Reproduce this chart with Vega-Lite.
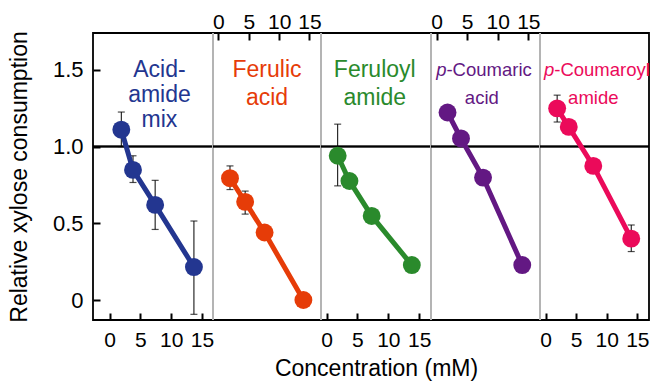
{
  "$schema": "https://vega.github.io/schema/vega-lite/v6.json",
  "background": "white",
  "padding": {"left": 7, "top": 10, "right": 0, "bottom": 0},
  "spacing": 0,
  "bounds": "flush",
  "config": {"view": {"stroke": "black", "strokeWidth": 1.8}, "font": "Liberation Sans", "axis": {"grid": false}},
  "datasets": {
    "points": [
      {"compound": "mix", "conc": 1.9, "rel": 1.11, "lo": 1.0, "hi": 1.225},
      {"compound": "mix", "conc": 3.8, "rel": 0.848, "lo": 0.766, "hi": 0.94},
      {"compound": "mix", "conc": 7.4, "rel": 0.62, "lo": 0.46, "hi": 0.78},
      {"compound": "mix", "conc": 13.7, "rel": 0.215, "lo": -0.093, "hi": 0.515},
      {"compound": "ferulic_acid", "conc": 1.9, "rel": 0.794, "lo": 0.72, "hi": 0.874},
      {"compound": "ferulic_acid", "conc": 4.4, "rel": 0.64, "lo": 0.56, "hi": 0.71},
      {"compound": "ferulic_acid", "conc": 7.6, "rel": 0.44, "lo": null, "hi": null},
      {"compound": "ferulic_acid", "conc": 14.0, "rel": 0.0, "lo": null, "hi": null},
      {"compound": "feruloyl_amide", "conc": 1.8, "rel": 0.94, "lo": 0.744, "hi": 1.146},
      {"compound": "feruloyl_amide", "conc": 3.7, "rel": 0.776, "lo": null, "hi": null},
      {"compound": "feruloyl_amide", "conc": 7.3, "rel": 0.548, "lo": null, "hi": null},
      {"compound": "feruloyl_amide", "conc": 13.8, "rel": 0.228, "lo": null, "hi": null},
      {"compound": "p_coumaric_acid", "conc": 1.8, "rel": 1.222, "lo": null, "hi": null},
      {"compound": "p_coumaric_acid", "conc": 4.0, "rel": 1.053, "lo": null, "hi": null},
      {"compound": "p_coumaric_acid", "conc": 7.6, "rel": 0.798, "lo": null, "hi": null},
      {"compound": "p_coumaric_acid", "conc": 14.0, "rel": 0.228, "lo": null, "hi": null},
      {"compound": "p_coumaroyl_amide", "conc": 1.9, "rel": 1.249, "lo": 1.16, "hi": 1.335},
      {"compound": "p_coumaroyl_amide", "conc": 3.8, "rel": 1.128, "lo": null, "hi": null},
      {"compound": "p_coumaroyl_amide", "conc": 7.8, "rel": 0.874, "lo": null, "hi": null},
      {"compound": "p_coumaroyl_amide", "conc": 14.0, "rel": 0.40, "lo": 0.316, "hi": 0.489}
    ],
    "labels": [
      {"compound": "mix", "part": "main", "text": ["Acid-", "amide", "mix"]},
      {"compound": "ferulic_acid", "part": "main", "text": ["Ferulic", "acid"]},
      {"compound": "feruloyl_amide", "part": "main", "text": ["Feruloyl", "amide"]},
      {"compound": "p_coumaric_acid", "part": "p", "text": "p"},
      {"compound": "p_coumaric_acid", "part": "rest", "text": "-Coumaric"},
      {"compound": "p_coumaric_acid", "part": "line2", "text": "acid"},
      {"compound": "p_coumaroyl_amide", "part": "p", "text": "p"},
      {"compound": "p_coumaroyl_amide", "part": "rest", "text": "-Coumaroyl"},
      {"compound": "p_coumaroyl_amide", "part": "line2", "text": "amide"}
    ]
  },
  "hconcat": [
    {
      "width": 120, "height": 287,
      "data": {"name": "points"},
      "transform": [{"filter": "datum.compound === 'mix'"}],
      "layer": [
        {"mark": {"type": "rule", "color": "black", "strokeWidth": 1.6},
         "encoding": {"y": {"datum": 1, "type": "quantitative", "scale": {"domain": [-0.13, 1.74], "nice": false, "zero": false}, "axis": null}}},
        {"transform": [{"filter": "datum.lo != null"}],
         "mark": {"type": "errorbar", "color": "black", "thickness": 1, "ticks": {"size": 7, "thickness": 1.2, "color": "black"}},
         "encoding": {
           "x": {"field": "conc", "type": "quantitative", "scale": {"domain": [-2.7, 16.8], "nice": false, "zero": false}, "axis": null},
           "y": {"field": "lo", "type": "quantitative", "scale": {"domain": [-0.13, 1.74], "nice": false, "zero": false}, "axis": null},
           "y2": {"field": "hi"}}},
        {"mark": {"type": "line", "color": "#233690", "strokeWidth": 5},
         "encoding": {
           "x": {"field": "conc", "type": "quantitative", "scale": {"domain": [-2.7, 16.8], "nice": false, "zero": false},
                 "axis": {"orient": "bottom", "domain": false, "values": [0, 5, 10, 15], "tickSize": -7, "tickWidth": 2, "tickColor": "black", "labelFontSize": 21, "labelColor": "black", "labelPadding": 16, "labelFlush": false, "labelOverlap": false, "title": null}},
           "y": {"field": "rel", "type": "quantitative", "scale": {"domain": [-0.13, 1.74], "nice": false, "zero": false},
                 "axis": {"orient": "left", "domain": false, "values": [0, 0.5, 1, 1.5], "labelExpr": "datum.value === 0 ? '0' : format(datum.value, '.1f')", "tickSize": -7, "tickWidth": 2, "tickColor": "black", "labelFontSize": 22, "labelColor": "black", "labelPadding": 17, "title": "Relative xylose consumption", "titleFontSize": 23, "titleFontWeight": "normal", "titleColor": "black", "titlePadding": 21}}}},
        {"mark": {"type": "circle", "color": "#233690", "size": 320, "opacity": 1},
         "encoding": {
           "x": {"field": "conc", "type": "quantitative", "scale": {"domain": [-2.7, 16.8], "nice": false, "zero": false}, "axis": null},
           "y": {"field": "rel", "type": "quantitative", "scale": {"domain": [-0.13, 1.74], "nice": false, "zero": false}, "axis": null}}},
        {"data": {"name": "labels"},
         "transform": [{"filter": "datum.compound === 'mix'"}],
         "mark": {"type": "text", "color": "#233690", "fontSize": 23, "lineHeight": 25, "align": "center", "baseline": "alphabetic"},
         "encoding": {
           "text": {"field": "text"},
           "x": {"datum": 8.1, "type": "quantitative", "scale": {"domain": [-2.7, 16.8], "nice": false, "zero": false}, "axis": null},
           "y": {"datum": 1.453, "type": "quantitative", "scale": {"domain": [-0.13, 1.74], "nice": false, "zero": false}, "axis": null}}}
      ],
      "resolve": {"axis": {"x": "independent", "y": "independent"}}
    },
    {
      "width": 108, "height": 287,
      "data": {"name": "points"},
      "transform": [{"filter": "datum.compound === 'ferulic_acid'"}],
      "layer": [
        {"mark": {"type": "rule", "color": "black", "strokeWidth": 1.6},
         "encoding": {"y": {"datum": 1, "type": "quantitative", "scale": {"domain": [-0.13, 1.74], "nice": false, "zero": false}, "axis": null}}},
        {"transform": [{"filter": "datum.lo != null"}],
         "mark": {"type": "errorbar", "color": "black", "thickness": 1, "ticks": {"size": 7, "thickness": 1.2, "color": "black"}},
         "encoding": {
           "x": {"field": "conc", "type": "quantitative", "scale": {"domain": [-0.9, 16.9], "nice": false, "zero": false}, "axis": null},
           "y": {"field": "lo", "type": "quantitative", "scale": {"domain": [-0.13, 1.74], "nice": false, "zero": false}, "axis": null},
           "y2": {"field": "hi"}}},
        {"mark": {"type": "line", "color": "#e63c08", "strokeWidth": 5},
         "encoding": {
           "x": {"field": "conc", "type": "quantitative", "scale": {"domain": [-0.9, 16.9], "nice": false, "zero": false},
                 "axis": {"orient": "top", "domain": false, "values": [0, 5, 10, 15], "tickSize": -7, "tickWidth": 2, "tickColor": "black", "labelFontSize": 21, "labelColor": "black", "labelPadding": 8, "labelFlush": false, "labelOverlap": false, "title": null}},
           "y": {"field": "rel", "type": "quantitative", "scale": {"domain": [-0.13, 1.74], "nice": false, "zero": false},
                 "axis": {"orient": "left", "ticks": false, "labels": false, "title": null, "domainColor": "#b4b4b4", "domainWidth": 2, "translate": 0}}}},
        {"mark": {"type": "circle", "color": "#e63c08", "size": 320, "opacity": 1},
         "encoding": {
           "x": {"field": "conc", "type": "quantitative", "scale": {"domain": [-0.9, 16.9], "nice": false, "zero": false}, "axis": null},
           "y": {"field": "rel", "type": "quantitative", "scale": {"domain": [-0.13, 1.74], "nice": false, "zero": false}, "axis": null}}},
        {"data": {"name": "labels"},
         "transform": [{"filter": "datum.compound === 'ferulic_acid'"}],
         "mark": {"type": "text", "color": "#e63c08", "fontSize": 23, "lineHeight": 27.5, "align": "center", "baseline": "alphabetic"},
         "encoding": {
           "text": {"field": "text"},
           "x": {"datum": 8.0, "type": "quantitative", "scale": {"domain": [-0.9, 16.9], "nice": false, "zero": false}, "axis": null},
           "y": {"datum": 1.453, "type": "quantitative", "scale": {"domain": [-0.13, 1.74], "nice": false, "zero": false}, "axis": null}}}
      ],
      "resolve": {"axis": {"x": "independent", "y": "independent"}}
    },
    {
      "width": 110, "height": 287,
      "data": {"name": "points"},
      "transform": [{"filter": "datum.compound === 'feruloyl_amide'"}],
      "layer": [
        {"mark": {"type": "rule", "color": "black", "strokeWidth": 1.6},
         "encoding": {"y": {"datum": 1, "type": "quantitative", "scale": {"domain": [-0.13, 1.74], "nice": false, "zero": false}, "axis": null}}},
        {"transform": [{"filter": "datum.lo != null"}],
         "mark": {"type": "errorbar", "color": "black", "thickness": 1, "ticks": {"size": 7, "thickness": 1.2, "color": "black"}},
         "encoding": {
           "x": {"field": "conc", "type": "quantitative", "scale": {"domain": [-0.9, 16.9], "nice": false, "zero": false}, "axis": null},
           "y": {"field": "lo", "type": "quantitative", "scale": {"domain": [-0.13, 1.74], "nice": false, "zero": false}, "axis": null},
           "y2": {"field": "hi"}}},
        {"mark": {"type": "line", "color": "#2a8a2c", "strokeWidth": 5},
         "encoding": {
           "x": {"field": "conc", "type": "quantitative", "scale": {"domain": [-0.9, 16.9], "nice": false, "zero": false},
                 "axis": {"orient": "bottom", "domain": false, "values": [0, 5, 10, 15], "tickSize": -7, "tickWidth": 2, "tickColor": "black", "labelFontSize": 21, "labelColor": "black", "labelPadding": 16, "labelFlush": false, "labelOverlap": false, "title": "Concentration (mM)", "titleFontSize": 23, "titleFontWeight": "normal", "titleColor": "black", "titlePadding": 7}},
           "y": {"field": "rel", "type": "quantitative", "scale": {"domain": [-0.13, 1.74], "nice": false, "zero": false},
                 "axis": {"orient": "left", "ticks": false, "labels": false, "title": null, "domainColor": "#b4b4b4", "domainWidth": 2, "translate": 0}}}},
        {"mark": {"type": "circle", "color": "#2a8a2c", "size": 320, "opacity": 1},
         "encoding": {
           "x": {"field": "conc", "type": "quantitative", "scale": {"domain": [-0.9, 16.9], "nice": false, "zero": false}, "axis": null},
           "y": {"field": "rel", "type": "quantitative", "scale": {"domain": [-0.13, 1.74], "nice": false, "zero": false}, "axis": null}}},
        {"data": {"name": "labels"},
         "transform": [{"filter": "datum.compound === 'feruloyl_amide'"}],
         "mark": {"type": "text", "color": "#2a8a2c", "fontSize": 23, "lineHeight": 27.5, "align": "center", "baseline": "alphabetic"},
         "encoding": {
           "text": {"field": "text"},
           "x": {"datum": 7.8, "type": "quantitative", "scale": {"domain": [-0.9, 16.9], "nice": false, "zero": false}, "axis": null},
           "y": {"datum": 1.453, "type": "quantitative", "scale": {"domain": [-0.13, 1.74], "nice": false, "zero": false}, "axis": null}}}
      ],
      "resolve": {"axis": {"x": "independent", "y": "independent"}}
    },
    {
      "width": 109, "height": 287,
      "data": {"name": "points"},
      "transform": [{"filter": "datum.compound === 'p_coumaric_acid'"}],
      "layer": [
        {"mark": {"type": "rule", "color": "black", "strokeWidth": 1.6},
         "encoding": {"y": {"datum": 1, "type": "quantitative", "scale": {"domain": [-0.13, 1.74], "nice": false, "zero": false}, "axis": null}}},
        {"mark": {"type": "line", "color": "#631883", "strokeWidth": 5},
         "encoding": {
           "x": {"field": "conc", "type": "quantitative", "scale": {"domain": [-0.9, 16.9], "nice": false, "zero": false},
                 "axis": {"orient": "top", "domain": false, "values": [0, 5, 10, 15], "tickSize": -7, "tickWidth": 2, "tickColor": "black", "labelFontSize": 21, "labelColor": "black", "labelPadding": 8, "labelFlush": false, "labelOverlap": false, "title": null}},
           "y": {"field": "rel", "type": "quantitative", "scale": {"domain": [-0.13, 1.74], "nice": false, "zero": false},
                 "axis": {"orient": "left", "ticks": false, "labels": false, "title": null, "domainColor": "#b4b4b4", "domainWidth": 2, "translate": 0}}}},
        {"mark": {"type": "circle", "color": "#631883", "size": 320, "opacity": 1},
         "encoding": {
           "x": {"field": "conc", "type": "quantitative", "scale": {"domain": [-0.9, 16.9], "nice": false, "zero": false}, "axis": null},
           "y": {"field": "rel", "type": "quantitative", "scale": {"domain": [-0.13, 1.74], "nice": false, "zero": false}, "axis": null}}},
        {"data": {"name": "labels"},
         "transform": [{"filter": "datum.compound === 'p_coumaric_acid' && datum.part === 'p'"}],
         "mark": {"type": "text", "color": "#631883", "fontSize": 18.5, "fontStyle": "italic", "align": "right", "baseline": "alphabetic", "dx": -36},
         "encoding": {
           "text": {"field": "text"},
           "x": {"datum": 7.5, "type": "quantitative", "scale": {"domain": [-0.9, 16.9], "nice": false, "zero": false}, "axis": null},
           "y": {"datum": 1.457, "type": "quantitative", "scale": {"domain": [-0.13, 1.74], "nice": false, "zero": false}, "axis": null}}},
        {"data": {"name": "labels"},
         "transform": [{"filter": "datum.compound === 'p_coumaric_acid' && datum.part === 'rest'"}],
         "mark": {"type": "text", "color": "#631883", "fontSize": 18.5, "align": "left", "baseline": "alphabetic", "dx": -36},
         "encoding": {
           "text": {"field": "text"},
           "x": {"datum": 7.5, "type": "quantitative", "scale": {"domain": [-0.9, 16.9], "nice": false, "zero": false}, "axis": null},
           "y": {"datum": 1.457, "type": "quantitative", "scale": {"domain": [-0.13, 1.74], "nice": false, "zero": false}, "axis": null}}},
        {"data": {"name": "labels"},
         "transform": [{"filter": "datum.compound === 'p_coumaric_acid' && datum.part === 'line2'"}],
         "mark": {"type": "text", "color": "#631883", "fontSize": 18.5, "align": "center", "baseline": "alphabetic"},
         "encoding": {
           "text": {"field": "text"},
           "x": {"datum": 7.4, "type": "quantitative", "scale": {"domain": [-0.9, 16.9], "nice": false, "zero": false}, "axis": null},
           "y": {"datum": 1.277, "type": "quantitative", "scale": {"domain": [-0.13, 1.74], "nice": false, "zero": false}, "axis": null}}}
      ],
      "resolve": {"axis": {"x": "independent", "y": "independent"}}
    },
    {
      "width": 109, "height": 287,
      "data": {"name": "points"},
      "transform": [{"filter": "datum.compound === 'p_coumaroyl_amide'"}],
      "layer": [
        {"mark": {"type": "rule", "color": "black", "strokeWidth": 1.6},
         "encoding": {"y": {"datum": 1, "type": "quantitative", "scale": {"domain": [-0.13, 1.74], "nice": false, "zero": false}, "axis": null}}},
        {"transform": [{"filter": "datum.lo != null"}],
         "mark": {"type": "errorbar", "color": "black", "thickness": 1, "ticks": {"size": 7, "thickness": 1.2, "color": "black"}},
         "encoding": {
           "x": {"field": "conc", "type": "quantitative", "scale": {"domain": [-0.9, 16.9], "nice": false, "zero": false}, "axis": null},
           "y": {"field": "lo", "type": "quantitative", "scale": {"domain": [-0.13, 1.74], "nice": false, "zero": false}, "axis": null},
           "y2": {"field": "hi"}}},
        {"mark": {"type": "line", "color": "#eb0a5a", "strokeWidth": 5},
         "encoding": {
           "x": {"field": "conc", "type": "quantitative", "scale": {"domain": [-0.9, 16.9], "nice": false, "zero": false},
                 "axis": {"orient": "bottom", "domain": false, "values": [0, 5, 10, 15], "tickSize": -7, "tickWidth": 2, "tickColor": "black", "labelFontSize": 21, "labelColor": "black", "labelPadding": 16, "labelFlush": false, "labelOverlap": false, "title": null}},
           "y": {"field": "rel", "type": "quantitative", "scale": {"domain": [-0.13, 1.74], "nice": false, "zero": false},
                 "axis": {"orient": "left", "ticks": false, "labels": false, "title": null, "domainColor": "#b4b4b4", "domainWidth": 2, "translate": 0}}}},
        {"mark": {"type": "circle", "color": "#eb0a5a", "size": 320, "opacity": 1},
         "encoding": {
           "x": {"field": "conc", "type": "quantitative", "scale": {"domain": [-0.9, 16.9], "nice": false, "zero": false}, "axis": null},
           "y": {"field": "rel", "type": "quantitative", "scale": {"domain": [-0.13, 1.74], "nice": false, "zero": false}, "axis": null}}},
        {"data": {"name": "labels"},
         "transform": [{"filter": "datum.compound === 'p_coumaroyl_amide' && datum.part === 'p'"}],
         "mark": {"type": "text", "color": "#eb0a5a", "fontSize": 18.5, "fontStyle": "italic", "align": "right", "baseline": "alphabetic", "dx": -39},
         "encoding": {
           "text": {"field": "text"},
           "x": {"datum": 7.8, "type": "quantitative", "scale": {"domain": [-0.9, 16.9], "nice": false, "zero": false}, "axis": null},
           "y": {"datum": 1.457, "type": "quantitative", "scale": {"domain": [-0.13, 1.74], "nice": false, "zero": false}, "axis": null}}},
        {"data": {"name": "labels"},
         "transform": [{"filter": "datum.compound === 'p_coumaroyl_amide' && datum.part === 'rest'"}],
         "mark": {"type": "text", "color": "#eb0a5a", "fontSize": 18.5, "align": "left", "baseline": "alphabetic", "dx": -39},
         "encoding": {
           "text": {"field": "text"},
           "x": {"datum": 7.8, "type": "quantitative", "scale": {"domain": [-0.9, 16.9], "nice": false, "zero": false}, "axis": null},
           "y": {"datum": 1.457, "type": "quantitative", "scale": {"domain": [-0.13, 1.74], "nice": false, "zero": false}, "axis": null}}},
        {"data": {"name": "labels"},
         "transform": [{"filter": "datum.compound === 'p_coumaroyl_amide' && datum.part === 'line2'"}],
         "mark": {"type": "text", "color": "#eb0a5a", "fontSize": 18.5, "align": "center", "baseline": "alphabetic"},
         "encoding": {
           "text": {"field": "text"},
           "x": {"datum": 7.8, "type": "quantitative", "scale": {"domain": [-0.9, 16.9], "nice": false, "zero": false}, "axis": null},
           "y": {"datum": 1.277, "type": "quantitative", "scale": {"domain": [-0.13, 1.74], "nice": false, "zero": false}, "axis": null}}}
      ],
      "resolve": {"axis": {"x": "independent", "y": "independent"}}
    }
  ]
}
